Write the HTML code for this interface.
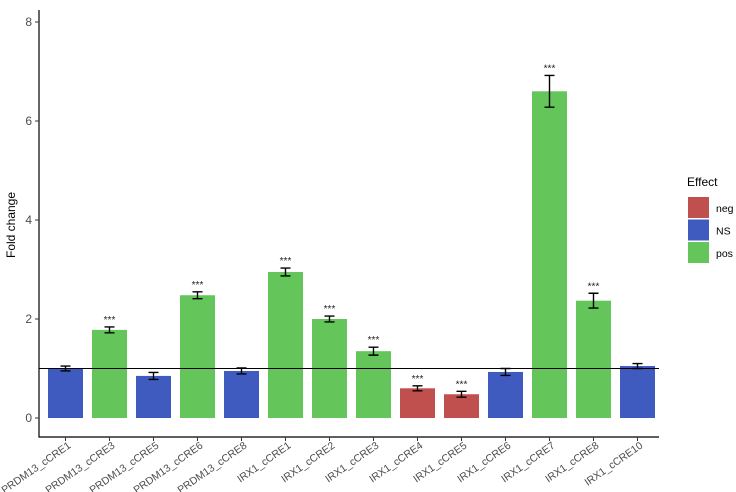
<!DOCTYPE html>
<html><head><meta charset="utf-8"><style>
body{margin:0;background:#fff;}
svg{display:block;font-family:"Liberation Sans",Arial,sans-serif;}
</style></head><body>
<svg id="chart" width="736" height="492" viewBox="0 0 736 492"></svg>
<script>
const categories=["PRDM13_cCRE1","PRDM13_cCRE3","PRDM13_cCRE5","PRDM13_cCRE6","PRDM13_cCRE8","IRX1_cCRE1","IRX1_cCRE2","IRX1_cCRE3","IRX1_cCRE4","IRX1_cCRE5","IRX1_cCRE6","IRX1_cCRE7","IRX1_cCRE8","IRX1_cCRE10"];
const values=[1.0,1.78,0.85,2.48,0.95,2.95,2.0,1.35,0.6,0.48,0.93,6.6,2.37,1.05];
const errors=[0.05,0.06,0.07,0.07,0.06,0.08,0.06,0.08,0.05,0.06,0.07,0.32,0.15,0.05];
const effects=["NS","pos","NS","pos","NS","pos","pos","pos","neg","neg","NS","pos","pos","NS"];
const signif=["","***","","***","","***","***","***","***","***","","***","***",""];
const yTicks=[0,2,4,6,8];
const legendLevels=["neg","NS","pos"];
const colors={neg:"#C0504D",NS:"#3F5BBF",pos:"#63C55A"};

const NS="http://www.w3.org/2000/svg";
const svg=document.getElementById('chart');
function mk(t,a,txt){const e=document.createElementNS(NS,t);for(const k in a)e.setAttribute(k,a[k]);if(txt!==undefined)e.textContent=txt;svg.appendChild(e);return e;}
const X0=39,Y0=437,PR=659;
const y=v=>418-v*49.5;
const x=i=>65.5+i*44;
const bw=35;

values.forEach((v,i)=>{
  const r=mk('rect',{x:x(i)-bw/2,y:y(v),width:bw,height:y(0)-y(v),fill:colors[effects[i]]});
  
  
  const e=errors[i],cx=x(i);
  const g=mk('path',{d:`M${cx-5},${y(v+e)}H${cx+5}M${cx},${y(v+e)}V${y(v-e)}M${cx-5},${y(v-e)}H${cx+5}`,stroke:"#000","stroke-width":1.4,fill:"none"});
  
  
  if(signif[i]){const t=mk('text',{x:cx,y:y(v+e)-4,"text-anchor":"middle","font-size":10,fill:"#222"},signif[i]);
    
    }
});
const ref=mk('line',{x1:X0,x2:PR,y1:y(1),y2:y(1),stroke:"#000","stroke-width":1});


const ax=mk('path',{d:`M${X0},10V${Y0}H${PR}`,stroke:"#000","stroke-width":1.2,fill:"none"});


yTicks.forEach(t=>{
  mk('line',{x1:X0-4,x2:X0,y1:y(t),y2:y(t),stroke:"#333"});
  const l=mk('text',{x:X0-7,y:y(t)+4,"text-anchor":"end","font-size":12,fill:"#4d4d4d"},t);
  
  
});
categories.forEach((c,i)=>{
  mk('line',{x1:x(i),x2:x(i),y1:Y0,y2:Y0+4,stroke:"#333"});
  const ax0=x(i)+6,ay0=Y0+10;
  const l=mk('text',{x:ax0,y:ay0,"text-anchor":"end","font-size":10.5,fill:"#4d4d4d",transform:`rotate(-35 ${ax0} ${ay0})`},c);
  
  
});
const yt=mk('text',{x:15,y:225,"text-anchor":"middle","font-size":12,fill:"#000",transform:"rotate(-90 15 225)"},"Fold change");


const lt=mk('text',{x:687,y:186,"font-size":12,fill:"#000"},"Effect");


legendLevels.forEach((l,i)=>{
  const r=mk('rect',{x:688,y:197+i*22.5,width:21,height:21,fill:colors[l]});
  
  
  const t=mk('text',{x:716,y:212+i*22.5,"font-size":10.5,fill:"#000"},l);
  
  
});
</script>
</body></html>
